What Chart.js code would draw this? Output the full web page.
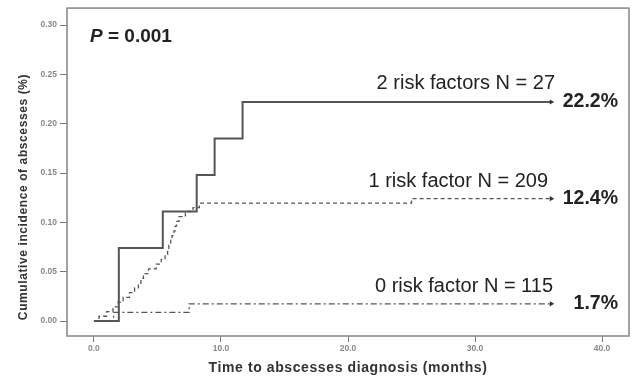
<!DOCTYPE html>
<html>
<head>
<meta charset="utf-8">
<script src="https://cdn.jsdelivr.net/npm/chart.js@4/dist/chart.umd.min.js"></script>
<style>
  html, body { margin: 0; padding: 0; background: #ffffff; }
  #wrap { width: 633px; height: 378px; position: relative; }
</style>
</head>
<body>
<div id="wrap"><canvas id="cif"></canvas></div>
<script>
// Cumulative incidence of abscesses by number of risk factors (step curves, months)
const timeTwo = [0, 1.96, 5.42, 8.09, 9.5, 11.7, 36];
const cumTwo  = [0, 0.074, 0.111, 0.148, 0.185, 0.222, 0.222];

const timeOne = [0, 0.4, 1.0, 1.5, 1.9, 2.3, 2.8, 3.2, 3.5, 3.7, 3.9, 4.3, 4.9, 5.3, 5.6,
                 5.8, 5.9, 6.05, 6.15, 6.3, 6.4, 6.5, 6.7, 7.2, 7.8, 8.3, 25.0, 36];
const cumOne  = [0, 0.0048, 0.0096, 0.0144, 0.0192, 0.024, 0.0288, 0.0336, 0.0385, 0.0433,
                 0.0481, 0.0529, 0.0577, 0.0625, 0.0673, 0.0721, 0.0769, 0.0817, 0.0865,
                 0.0913, 0.0962, 0.101, 0.1058, 0.111, 0.115, 0.1195, 0.124, 0.124];

const timeZero = [0, 1.55, 7.5, 36];
const cumZero  = [0, 0.0087, 0.0174, 0.0174];

const groupLabels = ['2 risk factors N = 27', '1 risk factor N = 209', '0 risk factor N = 115'];
const endLabels   = ['22.2%', '12.4%', '1.7%'];

const xTickValues = [0, 10, 20, 30, 40];
const xTickLabels = ['0.0', '10.0', '20.0', '30.0', '40.0'];
const yTickValues = [0, 0.05, 0.10, 0.15, 0.20, 0.25, 0.30];
const yTickLabels = ['0.00', '0.05', '0.10', '0.15', '0.20', '0.25', '0.30'];

const pValueText = '0.001';
const xTitle = 'Time to abscesses diagnosis (months)';
const yTitle = 'Cumulative incidence of abscesses (%)';

const toPoints = (ts, vs) => ts.map((t, i) => ({ x: t, y: vs[i] }));
const endMarker = n => Array.from({ length: n }, (_, i) => (i === n - 1 ? 3 : 0));

const FONT = '"Liberation Sans", Arial, Helvetica, sans-serif';
const LINE = '#555555';

// Frame, annotations and axis titles
const decorations = {
  id: 'decorations',
  afterDraw(chart) {
    const { ctx, chartArea: a, scales: { y } } = chart;
    ctx.save();
    ctx.strokeStyle = '#8c8c8c';
    ctx.lineWidth = 1.6;
    ctx.strokeRect(a.left, a.top, a.right - a.left, a.bottom - a.top);

    ctx.fillStyle = '#222222';
    ctx.textBaseline = 'middle';

    // P value
    ctx.textAlign = 'left';
    ctx.font = 'italic bold 19px ' + FONT;
    ctx.fillText('P', 90, 37);
    const pw = ctx.measureText('P').width;
    ctx.font = 'bold 19px ' + FONT;
    ctx.fillText(' = ' + pValueText, 90 + pw, 37);

    // Group labels and end values
    const ends = [
      { v: cumTwo[cumTwo.length - 1], rx: 555, dy: -19 },
      { v: cumOne[cumOne.length - 1], rx: 548, dy: -17 },
      { v: cumZero[cumZero.length - 1], rx: 553, dy: -17 }
    ];
    ends.forEach((e, i) => {
      const py = y.getPixelForValue(e.v);
      ctx.font = '20px ' + FONT;
      ctx.textAlign = 'right';
      ctx.fillText(groupLabels[i], e.rx, py + e.dy);
      ctx.font = 'bold 19.5px ' + FONT;
      ctx.fillText(endLabels[i], 618, py);
    });

    // Axis titles
    ctx.fillStyle = '#333333';
    ctx.textAlign = 'center';
    ctx.letterSpacing = '0.6px';
    ctx.font = 'bold 14px ' + FONT;
    ctx.fillText(xTitle, (a.left + a.right) / 2, 368);
    ctx.save();
    ctx.translate(24, 197);
    ctx.rotate(-Math.PI / 2);
    ctx.font = 'bold 12px ' + FONT;
    ctx.fillText(yTitle, 0, 0);
    ctx.restore();
    ctx.restore();
  }
};

const commonCurve = {
  stepped: 'before',
  borderColor: LINE,
  pointStyle: 'triangle',
  rotation: 90,
  pointBackgroundColor: '#333',
  pointBorderWidth: 0,
  fill: false
};

new Chart(document.getElementById('cif'), {
  type: 'line',
  data: {
    datasets: [
      Object.assign({}, commonCurve, {
        label: groupLabels[0],
        data: toPoints(timeTwo, cumTwo),
        borderWidth: 2,
        pointRadius: endMarker(timeTwo.length)
      }),
      Object.assign({}, commonCurve, {
        label: groupLabels[1],
        data: toPoints(timeOne, cumOne),
        borderWidth: 1.3,
        borderDash: [4, 3],
        pointRadius: endMarker(timeOne.length)
      }),
      Object.assign({}, commonCurve, {
        label: groupLabels[2],
        data: toPoints(timeZero, cumZero),
        borderWidth: 1.3,
        borderDash: [6, 3, 2, 3],
        pointRadius: endMarker(timeZero.length)
      })
    ]
  },
  options: {
    responsive: true,
    maintainAspectRatio: false,
    animation: false,
    layout: { padding: { top: 8, right: 3, left: 0, bottom: 0 } },
    plugins: { legend: { display: false }, tooltip: { enabled: false } },
    scales: {
      x: {
        type: 'linear',
        min: -2.12,
        max: 42.12,
        afterBuildTicks: s => { s.ticks = xTickValues.map(v => ({ value: v })); },
        afterFit: s => { s.height = 42; },
        grid: { drawOnChartArea: false, drawTicks: true, tickLength: 6, color: '#777', lineWidth: 1 },
        border: { display: false },
        ticks: {
          padding: 2,
          maxRotation: 0,
          autoSkip: false,
          color: '#888',
          font: { family: FONT, size: 8.5, weight: 'bold' },
          callback: (v) => xTickLabels[xTickValues.indexOf(v)]
        }
      },
      y: {
        type: 'linear',
        min: -0.0152,
        max: 0.3172,
        afterBuildTicks: s => { s.ticks = yTickValues.map(v => ({ value: v })); },
        afterFit: s => { s.width = 67; },
        grid: { drawOnChartArea: false, drawTicks: true, tickLength: 7, color: '#777', lineWidth: 1 },
        border: { display: false },
        ticks: {
          padding: 3,
          autoSkip: false,
          color: '#888',
          font: { family: FONT, size: 8.5, weight: 'bold' },
          callback: (v) => {
            const i = yTickValues.findIndex(t => Math.abs(t - v) < 1e-9);
            return i >= 0 ? yTickLabels[i] : '';
          }
        }
      }
    }
  },
  plugins: [decorations]
});
</script>
</body>
</html>
